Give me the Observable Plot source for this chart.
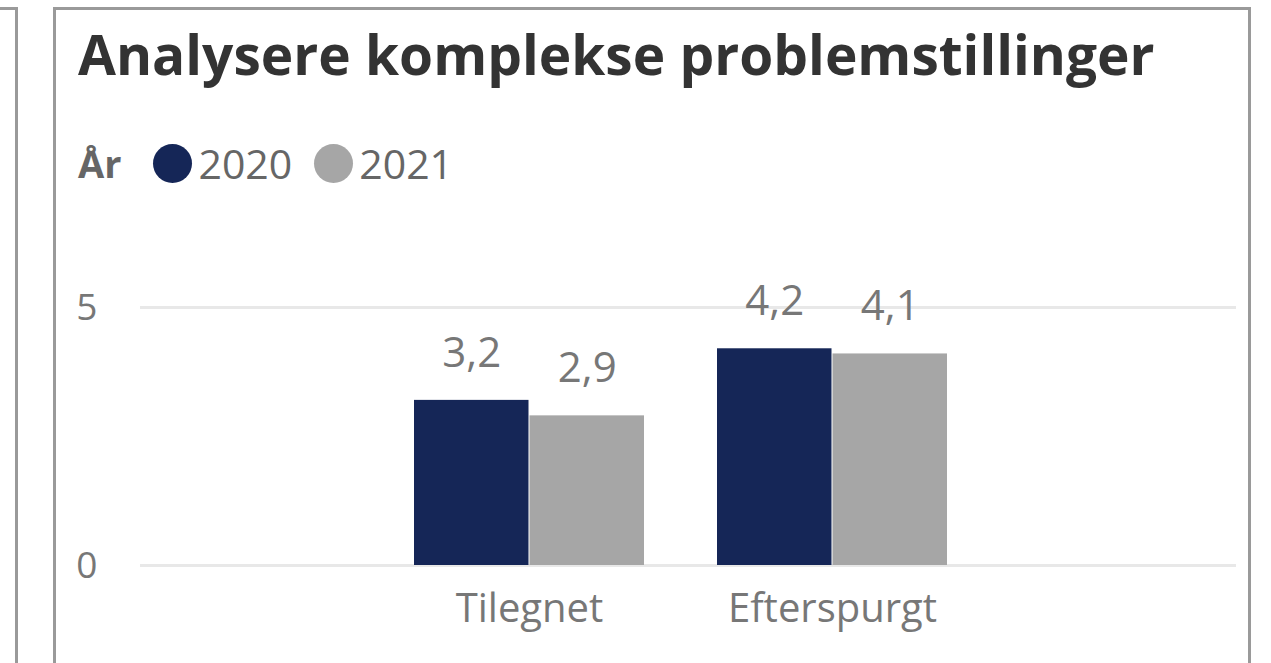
<!DOCTYPE html>
<html>
<head>
<meta charset="utf-8">
<script src="https://cdn.jsdelivr.net/npm/d3@7"></script>
<script src="https://cdn.jsdelivr.net/npm/@observablehq/plot@0.6"></script>
<style>
  html, body { margin: 0; padding: 0; background: #fff; width: 1271px; height: 663px; overflow: hidden; }
  body { position: relative; font-family: "Open Sans", "Noto Sans", sans-serif; }
  .prevbox { position: absolute; left: -20px; top: 7px; width: 32px; height: 700px; border: 3px solid #9a9a9a; }
  .frame { position: absolute; left: 53px; top: 7px; width: 1192px; height: 700px; border: 3px solid #9a9a9a; box-sizing: content-box; }
  .title { position: absolute; left: 78px; top: 14px; font-weight: 700; font-size: 55px; color: #333; white-space: nowrap; line-height: 80px; }
  .legend { position: absolute; left: 78px; top: 138px; height: 50px; display: flex; align-items: center; font-size: 41px; color: #666; white-space: nowrap; }
  .legend .lab { font-weight: 700; margin-right: 32px; font-size: 38px; }
  .legend .sw { display: inline-block; width: 39px; height: 39px; border-radius: 50%; margin-right: 6px; }
  .legend .item { display: flex; align-items: center; margin-right: 22px; }
  #chart { position: absolute; left: 0; top: 200px; }
</style>
</head>
<body>
<div class="prevbox"></div>
<div class="frame"></div>
<div class="title">Analysere komplekse problemstillinger</div>
<div class="legend" id="legend"></div>
<div id="chart"></div>
<script>
const categories = ["Tilegnet", "Efterspurgt"];
const years = ["2020", "2021"];
const values2020 = [3.2, 4.2];
const values2021 = [2.9, 4.1];
const yTicks = [0, 5];
const colors = ["#152657", "#a6a6a6"];
const legendTitle = "År";

const fmt = v => v.toFixed(1).replace(".", ",");

const d2020 = categories.map((c, i) => ({category: c, year: years[0], value: values2020[i]}));
const d2021 = categories.map((c, i) => ({category: c, year: years[1], value: values2021[i]}));

// legend
const leg = document.getElementById("legend");
const lab = document.createElement("span");
lab.className = "lab"; lab.textContent = legendTitle; leg.appendChild(lab);
years.forEach((y, i) => {
  const it = document.createElement("span"); it.className = "item";
  const sw = document.createElement("span"); sw.className = "sw"; sw.style.background = colors[i];
  const t = document.createElement("span"); t.textContent = y;
  it.appendChild(sw); it.appendChild(t); leg.appendChild(it);
});

const W = 1271, H = 463;
const half = 115.5;
const labelStyle = {fill: "#777", fontFamily: "Open Sans, Noto Sans, sans-serif"};

const chart = Plot.plot({
  width: W,
  height: H,
  marginLeft: 140,
  marginRight: 35,
  marginTop: 107,
  marginBottom: 98,
  style: {fontFamily: "Open Sans, Noto Sans, sans-serif", background: "transparent", overflow: "visible"},
  x: {domain: categories, range: [414, 948], paddingInner: 0.24, paddingOuter: 0, axis: null},
  y: {domain: [0, 5], axis: null},
  marks: [
    Plot.ruleY(yTicks, {stroke: "#e8e8e8", strokeWidth: 3}),
    Plot.barY(d2020, {x: "category", y: "value", fill: colors[0], insetRight: half}),
    Plot.barY(d2021, {x: "category", y: "value", fill: colors[1], insetLeft: half}),
    Plot.text(d2020, {x: "category", y: "value", text: d => fmt(d.value), dx: -half / 2, dy: -47, fontSize: 42, ...labelStyle}),
    Plot.text(d2021, {x: "category", y: "value", text: d => fmt(d.value), dx: half / 2, dy: -47, fontSize: 42, ...labelStyle}),
    Plot.axisY(yTicks, {label: null, tickSize: 0, tickPadding: 0, dx: -43, textAnchor: "end", tickFormat: d => String(d), fontSize: 37, dy: 1, ...labelStyle}),
    Plot.axisX(categories, {label: null, tickSize: 0, tickPadding: 0, dy: 28, fontSize: 40, ...labelStyle})
  ]
});
document.getElementById("chart").appendChild(chart);
</script>
</body>
</html>
